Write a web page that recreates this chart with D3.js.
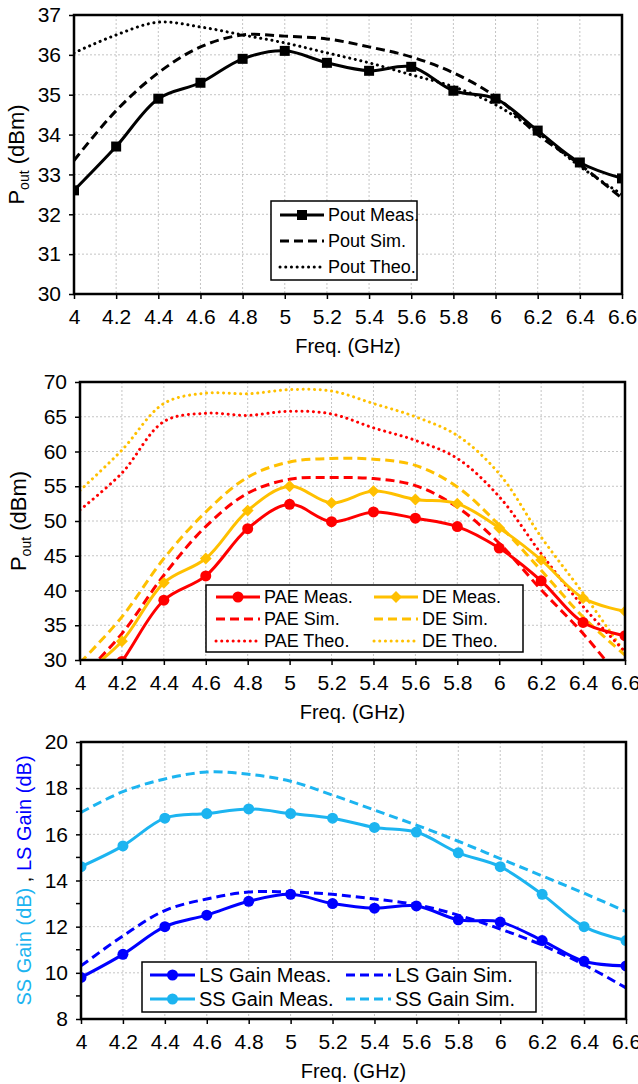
<!DOCTYPE html>
<html>
<head>
<meta charset="utf-8">
<script src="https://cdn.jsdelivr.net/npm/d3@7"></script>
<style>
body { margin: 0; background: #fff; }
text { font-family: "Liberation Sans", Arial, sans-serif; }
</style>
</head>
<body>
<div id="viz"></div>
<script>
var width = 638
var height = 1084

// frequency points (GHz), shared by all three panels
var freq = [4, 4.2, 4.4, 4.6, 4.8, 5, 5.2, 5.4, 5.6, 5.8, 6, 6.2, 6.4, 6.6];

// top panel: output power
var poutMeas = [32.6, 33.7, 34.9, 35.3, 35.9, 36.1, 35.8, 35.6, 35.7, 35.1, 34.9, 34.1, 33.3, 32.9];
var poutSim  = [33.35, 34.6, 35.55, 36.2, 36.5, 36.47, 36.4, 36.2, 35.95, 35.55, 34.95, 34.0, 33.25, 32.4];
var poutTheo = [36.05, 36.5, 36.82, 36.7, 36.5, 36.3, 36.05, 35.8, 35.5, 35.2, 34.75, 34.05, 33.2, 32.5];
var poutTicks = [30, 31, 32, 33, 34, 35, 36, 37];

// middle panel: efficiency
var paeMeas = [22, 29.8, 38.6, 42.1, 48.9, 52.4, 49.9, 51.3, 50.4, 49.2, 46.1, 41.4, 35.4, 33.5];
var paeSim  = [27.3, 33.8, 42.2, 49.2, 54, 56, 56.25, 56.1, 55.1, 52, 46.8, 40.1, 33.8, 26.5];
var paeTheo = [51.6, 56.9, 64.3, 65.5, 65.2, 65.8, 65.4, 63.4, 61.6, 59, 53.5, 45.3, 37.7, 31.2];
var deMeas  = [27.6, 32.7, 41.1, 44.6, 51.5, 55, 52.6, 54.3, 53.1, 52.5, 49, 44.4, 38.9, 37];
var deSim   = [29.6, 36.2, 44.6, 51.3, 56.3, 58.5, 59, 58.9, 58, 54.9, 49.4, 42.9, 36.2, 30.7];
var deTheo  = [54.4, 60.2, 66.9, 68.4, 68.3, 68.9, 68.7, 66.9, 65, 62.3, 56.8, 47.7, 39.6, 31];
var effTicks = [30, 35, 40, 45, 50, 55, 60, 65, 70];

// bottom panel: gain
var lsMeas = [9.8, 10.8, 12.0, 12.5, 13.1, 13.4, 13.0, 12.8, 12.9, 12.3, 12.2, 11.4, 10.5, 10.3];
var lsSim  = [10.3, 11.6, 12.7, 13.2, 13.5, 13.5, 13.4, 13.2, 12.95, 12.5, 11.9, 11.2, 10.35, 9.35];
var ssMeas = [14.6, 15.5, 16.7, 16.9, 17.1, 16.9, 16.7, 16.3, 16.1, 15.2, 14.6, 13.4, 12.0, 11.4];
var ssSim  = [16.95, 17.85, 18.4, 18.7, 18.6, 18.3, 17.7, 17.05, 16.4, 15.7, 14.95, 14.2, 13.45, 12.65];
var gainTicks = [8, 10, 12, 14, 16, 18, 20];
var gainMinor = [9, 11, 13, 15, 17, 19];

var RED = "#ff0000", GOLD = "#ffc000", BLUE = "#0000ff", LBLUE = "#1cb4f0";

var svg = d3.select("#viz")
	.append("svg")
	.attr("width", width)
	.attr("height", height);

svg.append("rect").attr("width", width).attr("height", height).attr("fill", "#fff");

function dashOf(style){
	if (style === "dash") return "9,5";
	if (style === "dot") return "0.1,5.6";
	return null;
}

function drawMarker(sel, type, color, size){
	if (type === "square") {
		sel.append("rect")
			.attr("x", -size/2).attr("y", -size/2)
			.attr("width", size).attr("height", size)
			.attr("fill", color);
	} else if (type === "circle") {
		sel.append("circle").attr("r", size/2).attr("fill", color);
	} else if (type === "diamond") {
		sel.append("path")
			.attr("d", d3.symbol().type(d3.symbolDiamond2).size(size*size*0.9))
			.attr("fill", color);
	}
}

function panel(p, idx){
	var x = d3.scaleLinear().domain([4, 6.6]).range([p.left, p.right]);
	var y = d3.scaleLinear().domain([p.yTicks[0], p.yTicks[p.yTicks.length-1]]).range([p.bottom, p.top]);
	var g = svg.append("g");

	// grid
	g.selectAll(".vg").data(freq.slice(1, -1)).enter().append("line")
		.attr("x1", function(d){return x(d);}).attr("x2", function(d){return x(d);})
		.attr("y1", p.top).attr("y2", p.bottom)
		.attr("stroke", "#c4c4c4").attr("stroke-dasharray", "2,2");
	g.selectAll(".hg").data(p.yTicks.slice(1, -1)).enter().append("line")
		.attr("y1", function(d){return y(d);}).attr("y2", function(d){return y(d);})
		.attr("x1", p.left).attr("x2", p.right)
		.attr("stroke", "#c4c4c4").attr("stroke-dasharray", "2,2");

	// series
	var clipId = "clip" + idx;
	svg.append("clipPath").attr("id", clipId).append("rect")
		.attr("x", p.left).attr("y", p.top)
		.attr("width", p.right - p.left).attr("height", p.bottom - p.top);
	var plot = g.append("g").attr("clip-path", "url(#" + clipId + ")");

	var line = d3.line()
		.x(function(d){return x(d[0]);})
		.y(function(d){return y(d[1]);})
		.curve(d3.curveCatmullRom.alpha(0.5));

	p.series.forEach(function(s){
		var pts = freq.map(function(f, i){return [f, s.values[i]];});
		plot.append("path")
			.datum(pts)
			.attr("d", line)
			.attr("fill", "none")
			.attr("stroke", s.color)
			.attr("stroke-width", 3)
			.attr("stroke-linecap", s.style === "dot" ? "round" : "butt")
			.attr("stroke-dasharray", dashOf(s.style));
		if (s.marker) {
			plot.selectAll(null).data(pts).enter().append("g")
				.attr("transform", function(d){return "translate(" + x(d[0]) + "," + y(d[1]) + ")";})
				.each(function(){drawMarker(d3.select(this), s.marker, s.color, s.size);});
		}
	});

	// axes
	var xAxis = d3.axisBottom(x).tickValues(freq).tickSize(5).tickPadding(10)
		.tickFormat(function(d){return d;});
	var gx = g.append("g").attr("transform", "translate(0," + p.bottom + ")").call(xAxis);
	var yAxis = d3.axisLeft(y).tickValues(p.yTicks).tickSize(5).tickPadding(8)
		.tickFormat(function(d){return d;});
	var gy = g.append("g").attr("transform", "translate(" + p.left + ",0)").call(yAxis);
	[gx, gy].forEach(function(a){
		a.select(".domain").remove();
		a.selectAll("line").attr("stroke", "#000").attr("stroke-width", 1.5);
		a.selectAll("text").attr("font-size", 21).attr("fill", "#000")
			.attr("font-family", "Liberation Sans, Arial, sans-serif");
	});
	if (p.minor) {
		g.selectAll(".mt").data(p.minor).enter().append("line")
			.attr("x1", p.left - 5).attr("x2", p.left)
			.attr("y1", function(d){return y(d);}).attr("y2", function(d){return y(d);})
			.attr("stroke", "#000").attr("stroke-width", 1.5);
	}

	g.append("rect")
		.attr("x", p.left).attr("y", p.top)
		.attr("width", p.right - p.left).attr("height", p.bottom - p.top)
		.attr("fill", "none").attr("stroke", "#000").attr("stroke-width", 2.5);

	g.append("text")
		.attr("x", (p.left + p.right)/2).attr("y", p.bottom + 59)
		.attr("text-anchor", "middle").attr("font-size", 20)
		.text("Freq. (GHz)");

	// y title
	var yt = g.append("text")
		.attr("transform", "translate(" + p.titleX + "," + (p.top + p.bottom)/2 + ") rotate(-90)")
		.attr("text-anchor", "middle").attr("font-size", p.titleSize);
	p.yTitle(yt);

	// legend
	var L = p.legend;
	g.append("rect")
		.attr("x", L.x).attr("y", L.y).attr("width", L.w).attr("height", L.h)
		.attr("fill", "#fff").attr("stroke", "#000").attr("stroke-width", 1.5);
	L.items.forEach(function(it){
		var s = it.s;
		var row = g.append("g").attr("transform", "translate(0," + it.y + ")");
		row.append("line")
			.attr("x1", it.x).attr("x2", it.x + L.lineLen)
			.attr("stroke", s.color).attr("stroke-width", 3)
			.attr("stroke-linecap", s.style === "dot" ? "round" : "butt")
			.attr("stroke-dasharray", dashOf(s.style));
		if (s.marker) {
			var m = row.append("g").attr("transform", "translate(" + (it.x + L.lineLen/2) + ",0)");
			drawMarker(m, s.marker, s.color, s.size);
		}
		row.append("text")
			.attr("x", it.x + L.lineLen + 4).attr("y", 0).attr("dy", "0.35em")
			.attr("font-size", L.font).text(s.name);
	});
}

function poutTitle(t){
	t.append("tspan").text("P");
	t.append("tspan").attr("font-size", 14).attr("dy", 5).text("out");
	t.append("tspan").attr("dy", -5).text(" (dBm)");
}

// ---- top panel ----
var sPoutMeas = {name: "Pout Meas.", values: poutMeas, color: "#000", style: "solid", marker: "square", size: 10};
var sPoutSim = {name: "Pout Sim.", values: poutSim, color: "#000", style: "dash"};
var sPoutTheo = {name: "Pout Theo.", values: poutTheo, color: "#000", style: "dot"};

panel({
	left: 74, right: 622, top: 15, bottom: 294, yTicks: poutTicks, titleX: 24, titleSize: 22,
	series: [sPoutTheo, sPoutSim, sPoutMeas],
	yTitle: poutTitle,
	legend: {x: 271, y: 201, w: 146, h: 79, lineLen: 44, font: 18, items: [
		{s: sPoutMeas, x: 280, y: 215},
		{s: sPoutSim, x: 280, y: 241},
		{s: sPoutTheo, x: 280, y: 267}
	]}
}, 0);

// ---- middle panel ----
var sPaeMeas = {name: "PAE Meas.", values: paeMeas, color: RED, style: "solid", marker: "circle", size: 11};
var sPaeSim = {name: "PAE Sim.", values: paeSim, color: RED, style: "dash"};
var sPaeTheo = {name: "PAE Theo.", values: paeTheo, color: RED, style: "dot"};
var sDeMeas = {name: "DE Meas.", values: deMeas, color: GOLD, style: "solid", marker: "diamond", size: 10};
var sDeSim = {name: "DE Sim.", values: deSim, color: GOLD, style: "dash"};
var sDeTheo = {name: "DE Theo.", values: deTheo, color: GOLD, style: "dot"};

panel({
	left: 80, right: 625, top: 382, bottom: 660, yTicks: effTicks, titleX: 26, titleSize: 22,
	series: [sDeTheo, sPaeTheo, sDeSim, sPaeSim, sDeMeas, sPaeMeas],
	yTitle: poutTitle,
	legend: {x: 206, y: 585, w: 317, h: 67, lineLen: 44, font: 18, items: [
		{s: sPaeMeas, x: 216, y: 597},
		{s: sPaeSim, x: 216, y: 619},
		{s: sPaeTheo, x: 216, y: 641},
		{s: sDeMeas, x: 374, y: 597},
		{s: sDeSim, x: 374, y: 619},
		{s: sDeTheo, x: 374, y: 641}
	]}
}, 1);

// ---- bottom panel ----
var sLsMeas = {name: "LS Gain Meas.", values: lsMeas, color: BLUE, style: "solid", marker: "circle", size: 11};
var sLsSim = {name: "LS Gain Sim.", values: lsSim, color: BLUE, style: "dash"};
var sSsMeas = {name: "SS Gain Meas.", values: ssMeas, color: LBLUE, style: "solid", marker: "circle", size: 11};
var sSsSim = {name: "SS Gain Sim.", values: ssSim, color: LBLUE, style: "dash"};

panel({
	left: 81, right: 626, top: 742, bottom: 1019, yTicks: gainTicks, minor: gainMinor, titleX: 31, titleSize: 20,
	series: [sSsSim, sLsSim, sSsMeas, sLsMeas],
	yTitle: function(t){
		t.append("tspan").attr("fill", LBLUE).text("SS Gain (dB)");
		t.append("tspan").attr("fill", "#000").text(" , ");
		t.append("tspan").attr("fill", BLUE).text("LS Gain (dB)");
	},
	legend: {x: 142, y: 962, w: 394, h: 50, lineLen: 45, font: 20, items: [
		{s: sLsMeas, x: 150, y: 975},
		{s: sSsMeas, x: 150, y: 999},
		{s: sLsSim, x: 346, y: 975},
		{s: sSsSim, x: 346, y: 999}
	]}
}, 2);
</script>
</body>
</html>
